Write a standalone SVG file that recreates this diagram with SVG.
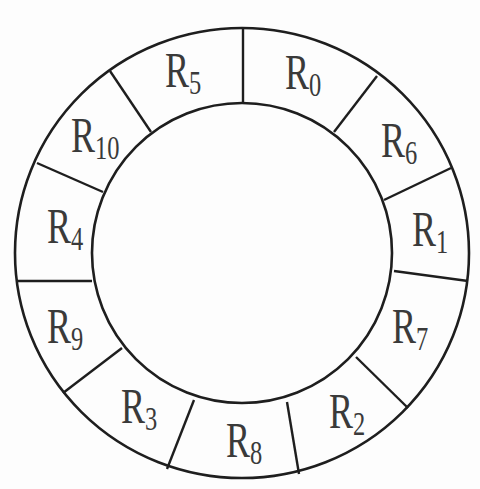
<svg xmlns="http://www.w3.org/2000/svg" width="480" height="489" viewBox="0 0 480 489">
<style>
.ring{fill:none;stroke:#1e1e1e;stroke-width:2.6}
.div{stroke:#1e1e1e;stroke-width:2.4}
.lbl{font-family:"Liberation Serif","Times New Roman",serif;font-size:50px;fill:#3a3a3a}
.sub{font-size:34px}
</style>
<rect width="480" height="489" fill="#fdfdfd"/>
<g id="rings">
<ellipse class="ring" cx="242" cy="253" rx="227" ry="225"/>
<circle class="ring" cx="242" cy="253" r="150"/>
</g>
<g id="connectors">
<line class="div" x1="243" y1="28" x2="243" y2="103"/>
<line class="div" x1="377" y1="76" x2="334" y2="132"/>
<line class="div" x1="451" y1="168" x2="384" y2="200"/>
<line class="div" x1="468" y1="281" x2="394" y2="271"/>
<line class="div" x1="408" y1="408" x2="356" y2="357"/>
<line class="div" x1="299" y1="474" x2="287" y2="402"/>
<line class="div" x1="167" y1="469" x2="194" y2="400"/>
<line class="div" x1="63" y1="393" x2="122" y2="348"/>
<line class="div" x1="17" y1="281" x2="92" y2="281"/>
<line class="div" x1="37" y1="163" x2="103" y2="192"/>
<line class="div" x1="110" y1="71" x2="151" y2="132"/>
</g>
<g id="R5"><text class="lbl" transform="translate(165,87) scale(0.72,1)">R<tspan class="sub" dy="7">5</tspan></text></g>
<g id="R0"><text class="lbl" transform="translate(285,89) scale(0.72,1)">R<tspan class="sub" dy="7">0</tspan></text></g>
<g id="R6"><text class="lbl" transform="translate(381,157) scale(0.72,1)">R<tspan class="sub" dy="7">6</tspan></text></g>
<g id="R1"><text class="lbl" transform="translate(412,246) scale(0.72,1)">R<tspan class="sub" dy="7">1</tspan></text></g>
<g id="R7"><text class="lbl" transform="translate(392,343) scale(0.72,1)">R<tspan class="sub" dy="7">7</tspan></text></g>
<g id="R2"><text class="lbl" transform="translate(329,428) scale(0.72,1)">R<tspan class="sub" dy="7">2</tspan></text></g>
<g id="R8"><text class="lbl" transform="translate(226,457) scale(0.72,1)">R<tspan class="sub" dy="7">8</tspan></text></g>
<g id="R3"><text class="lbl" transform="translate(121,423) scale(0.72,1)">R<tspan class="sub" dy="7">3</tspan></text></g>
<g id="R9"><text class="lbl" transform="translate(47,343) scale(0.72,1)">R<tspan class="sub" dy="7">9</tspan></text></g>
<g id="R4"><text class="lbl" transform="translate(47,243) scale(0.72,1)">R<tspan class="sub" dy="7">4</tspan></text></g>
<g id="R10"><text class="lbl" transform="translate(71,152) scale(0.72,1)">R<tspan class="sub" dy="7">10</tspan></text></g>
</svg>
